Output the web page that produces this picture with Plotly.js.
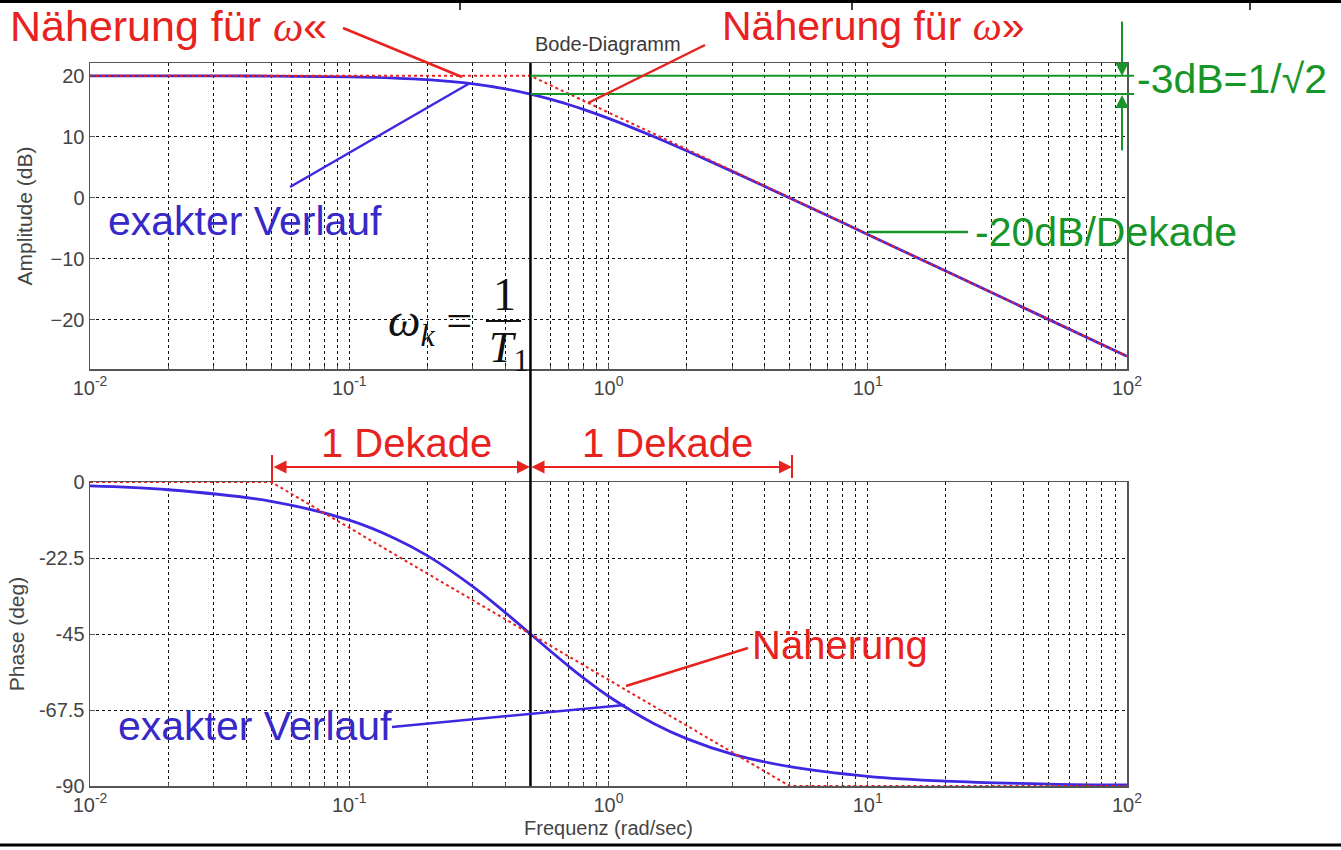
<!DOCTYPE html>
<html>
<head>
<meta charset="utf-8">
<script src="https://cdn.plot.ly/plotly-3.0.1.min.js"></script>
<style>html,body{margin:0;padding:0;background:#fff;}#chart{width:1341px;height:850px;}</style>
</head>
<body>
<div id="chart"></div>
<script>
// ---- data ----
const omega      = [0.01, 0.02, 0.05, 0.1, 0.15, 0.2, 0.3, 0.4, 0.5, 0.6, 0.7, 0.8, 1, 1.5, 2, 3, 5, 10, 20, 50, 100];
const ampExact   = [20.0, 20.0, 19.96, 19.83, 19.63, 19.36, 18.66, 17.85, 16.99, 16.13, 15.29, 14.49, 13.01, 10.0, 7.7, 4.32, -0.04, -6.03, -12.04, -20.0, -26.02];
const phaseExact = [-1.15, -2.29, -5.71, -11.31, -16.7, -21.8, -30.96, -38.66, -45.0, -50.19, -54.46, -57.99, -63.43, -71.57, -75.96, -80.54, -84.29, -87.14, -88.57, -89.43, -89.71];
const omegaAmpApprox = [0.01, 0.5, 100];
const ampApprox      = [20, 20, -26];
const omegaPhApprox  = [0.01, 0.05, 5, 100];
const phaseApprox    = [0, 0, -90, -90];
const cornerOmega = 0.5;
const level0dB = 20;
const level3dB = 17;
const xTickDecades = [0.01, 0.1, 1, 10, 100];
const xTickLabels  = ['10<sup>-2</sup>', '10<sup>-1</sup>', '10<sup>0</sup>', '10<sup>1</sup>', '10<sup>2</sup>'];
const ampTicks   = [-20, -10, 0, 10, 20];
const phaseTicks = [-90, -67.5, -45, -22.5, 0];
const phaseTickText = ['-90', '-67.5', '-45', '-22.5', '0'];

// ---- layout helpers (pixel -> paper) ----
const L = 90, R = 1127, T = 63, B = 786;
const px = x => (x - L) / (R - L);
const py = y => (B - y) / (B - T);
const xlogFrac = w => (Math.log10(w) + 2) / 4;

const RED = 'rgb(232,34,30)';
const GREEN = 'rgb(22,150,40)';
const BLUE = 'rgb(62,40,225)';
const TXTBLUE = 'rgb(55,40,200)';

// minor grid positions for log axis (2..9 per decade)
const minorVals = [];
xTickDecades.slice(0, -1).forEach(d => { for (let k = 2; k <= 9; k++) minorVals.push(d * k); });

const sans = 'Liberation Sans, Arial';
const serif = 'Liberation Serif, Times New Roman';
const tickFont = {family: sans, size: 20, color: '#444'};
const GRID = '#111';
const xaxisBase = {
  type: 'log', range: [-2, 2], tickmode: 'array', tickvals: xTickDecades, ticktext: xTickLabels,
  showgrid: true, gridcolor: GRID, griddash: 'dot', gridwidth: 1,
  minor: {tickmode: 'array', tickvals: minorVals, showgrid: true, gridcolor: GRID, griddash: 'dot', gridwidth: 1, ticks: 'inside', ticklen: 3, tickcolor: '#555'},
  showline: true, linecolor: '#555', linewidth: 1.5, mirror: true,
  ticks: 'inside', ticklen: 5, tickcolor: '#555', tickfont: tickFont, zeroline: false
};

const traces = [
  {x: omega, y: ampExact, xaxis: 'x', yaxis: 'y', mode: 'lines', line: {color: BLUE, width: 2.8, shape: 'spline'}},
  {x: omegaAmpApprox, y: ampApprox, xaxis: 'x', yaxis: 'y', mode: 'lines', line: {color: RED, width: 2, dash: 'dot'}},
  {x: omega, y: phaseExact, xaxis: 'x2', yaxis: 'y2', mode: 'lines', line: {color: BLUE, width: 2.8, shape: 'spline'}},
  {x: omegaPhApprox, y: phaseApprox, xaxis: 'x2', yaxis: 'y2', mode: 'lines', line: {color: RED, width: 2, dash: 'dot'}}
];

const yTop0 = py(369), yBot1 = py(482);
const ampRange = [-28.1, 22.1];
const yAmpPaper = v => yTop0 + (v - ampRange[0]) / (ampRange[1] - ampRange[0]) * (1 - yTop0);

const shapes = [];
const line = (x0, y0, x1, y1, color, width) => shapes.push({type: 'line', xref: 'paper', yref: 'paper', x0: px(x0), y0: py(y0), x1: px(x1), y1: py(y1), line: {color: color, width: width}});

// page borders (table lines)
shapes.push({type: 'line', xref: 'paper', yref: 'paper', x0: px(0), x1: px(1341), y0: py(1.5), y1: py(1.5), line: {color: '#000', width: 3}});
shapes.push({type: 'line', xref: 'paper', yref: 'paper', x0: px(0), x1: px(1341), y0: py(845), y1: py(845), line: {color: '#000', width: 3}});
[460, 852, 1250].forEach(x => line(x, 0, x, 10, '#000', 1.5));

// corner frequency line across both plots
shapes.push({type: 'line', xref: 'paper', yref: 'paper', x0: xlogFrac(cornerOmega), x1: xlogFrac(cornerOmega), y0: 0, y1: 1, line: {color: '#000', width: 2.5}});
// green -3 dB lines
[level0dB, level3dB].forEach(v => shapes.push({type: 'line', xref: 'paper', yref: 'paper', x0: xlogFrac(cornerOmega), x1: px(1134), y0: yAmpPaper(v), y1: yAmpPaper(v), line: {color: GREEN, width: 2}}));

// pointer lines
line(343, 28, 462, 77, RED, 2.5);
line(705, 45, 588, 103, RED, 2.5);
line(290, 187, 470, 83, BLUE, 2.5);
line(868, 232, 968, 232, GREEN, 2.5);
line(748, 648, 626, 686, RED, 2.5);
line(392, 727, 625, 705, BLUE, 2.5);
// decade end ticks
line(272, 455, 272, 484, RED, 2);
line(792, 455, 792, 478, RED, 2);
// fraction bar
line(486, 321, 521, 321, '#111', 2);

const ann = [];
const text = (t, x, y, size, color, xanchor, extra) => ann.push(Object.assign({xref: 'paper', yref: 'paper', x: px(x), y: py(y), text: t, showarrow: false, xanchor: xanchor || 'left', yanchor: 'middle', font: {family: sans, size: size, color: color}}, extra || {}));

text('Näherung für <span style="font-family:Liberation Serif"><i>ω</i></span>«', 8, 26, 43, RED);
text('Näherung für <span style="font-family:Liberation Serif"><i>ω</i></span>»', 720, 26, 41, RED);
text('Bode-Diagramm', 608, 44, 20, '#3a3a3a', 'center');
text('-3dB=1/√2', 1135, 79, 41, GREEN);
text('exakter Verlauf', 106, 221, 41, TXTBLUE);
text('-20dB/Dekade', 973, 232, 41, GREEN);
text('1 Dekade', 406, 443, 40, RED, 'center');
text('1 Dekade', 667, 443, 40, RED, 'center');
text('Näherung', 750, 645, 40, RED);
text('exakter Verlauf', 116, 726, 41, TXTBLUE);
// formula
text('<i>ω</i><sub><i>k</i></sub> =', 386, 324, 46, '#111', 'left', {font: {family: serif, size: 46, color: '#111'}});
text('1', 504, 294, 46, '#111', 'center', {font: {family: serif, size: 46, color: '#111'}});
text('<i>T</i><sub>1</sub>', 509, 350, 44, '#111', 'center', {font: {family: serif, size: 44, color: '#111'}});

// arrows
const arrow = (hx, hy, tx, ty, color, both) => ann.push({xref: 'paper', yref: 'paper', x: px(hx), y: py(hy), ax: tx - hx, ay: ty - hy, text: '', showarrow: true,
  arrowhead: 2, arrowsize: 1.3, arrowwidth: 2, arrowcolor: color, arrowside: both ? 'end+start' : 'end', startarrowhead: 2, startarrowsize: 1.3, standoff: 0, startstandoff: 0});
arrow(1122, 76, 1122, 20, GREEN);
arrow(1122, 95, 1122, 152, GREEN);
arrow(530, 467, 272, 467, RED, true);
arrow(792, 467, 530, 467, RED, true);

const layout = {
  width: 1341, height: 850, showlegend: false,
  paper_bgcolor: '#fff', plot_bgcolor: '#fff',
  margin: {l: L, r: 1341 - R, t: T, b: 850 - B},
  xaxis: Object.assign({}, xaxisBase, {domain: [0, 1], anchor: 'y'}),
  yaxis: {domain: [yTop0, 1], range: ampRange, tickvals: ampTicks, showgrid: true, gridcolor: GRID, griddash: 'dot', gridwidth: 1,
    showline: true, linecolor: '#555', linewidth: 1.5, mirror: true, ticks: 'inside', ticklen: 5, tickcolor: '#555', zeroline: false, tickfont: tickFont,
    title: {text: 'Amplitude (dB)', font: {family: sans, size: 21, color: '#444'}, standoff: 12}, anchor: 'x'},
  xaxis2: Object.assign({}, xaxisBase, {domain: [0, 1], anchor: 'y2',
    title: {text: 'Frequenz (rad/sec)', font: {family: sans, size: 20, color: '#444'}, standoff: 6}}),
  yaxis2: {domain: [0, yBot1], range: [-90, 0], tickmode: 'array', tickvals: phaseTicks, ticktext: phaseTickText, showgrid: true, gridcolor: GRID, griddash: 'dot', gridwidth: 1,
    showline: true, linecolor: '#555', linewidth: 1.5, mirror: true, ticks: 'inside', ticklen: 5, tickcolor: '#555', zeroline: false, tickfont: tickFont,
    title: {text: 'Phase (deg)', font: {family: sans, size: 21, color: '#444'}, standoff: 8}, anchor: 'x2'},
  shapes: shapes,
  annotations: ann
};

Plotly.newPlot('chart', traces, layout, {displayModeBar: false, staticPlot: true});
</script>
</body>
</html>
